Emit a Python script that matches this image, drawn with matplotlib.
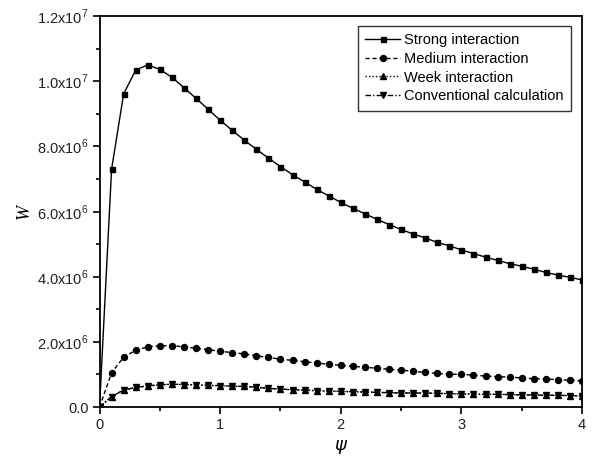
import numpy as np
import matplotlib
matplotlib.use("Agg")
import matplotlib.pyplot as plt
from matplotlib.ticker import FixedLocator, MultipleLocator

psi = [round(0.1 * i, 1) for i in range(41)]

strong = [0, 7.30e6, 9.61e6, 1.034e7, 1.050e7, 1.036e7, 1.012e7, 9.80e6, 9.47e6, 9.14e6,
          8.80e6, 8.49e6, 8.19e6, 7.91e6, 7.64e6, 7.38e6, 7.13e6, 6.91e6, 6.68e6, 6.48e6,
          6.28e6, 6.10e6, 5.93e6, 5.76e6, 5.60e6, 5.45e6, 5.31e6, 5.19e6, 5.05e6, 4.95e6,
          4.82e6, 4.71e6, 4.60e6, 4.50e6, 4.40e6, 4.32e6, 4.23e6, 4.13e6, 4.05e6, 3.98e6,
          3.90e6]

medium = [0, 1.05e6, 1.53e6, 1.74e6, 1.85e6, 1.88e6, 1.88e6, 1.85e6, 1.80e6, 1.76e6,
          1.71e6, 1.67e6, 1.63e6, 1.57e6, 1.52e6, 1.47e6, 1.43e6, 1.39e6, 1.35e6, 1.31e6,
          1.28e6, 1.25e6, 1.22e6, 1.19e6, 1.16e6, 1.13e6, 1.10e6, 1.06e6, 1.03e6, 1.01e6,
          1.00e6, 0.98e6, 0.95e6, 0.93e6, 0.92e6, 0.89e6, 0.87e6, 0.86e6, 0.84e6, 0.82e6,
          0.80e6]

week = [0, 0.32e6, 0.52e6, 0.60e6, 0.65e6, 0.68e6, 0.70e6, 0.69e6, 0.675e6, 0.665e6,
        0.655e6, 0.64e6, 0.63e6, 0.61e6, 0.57e6, 0.55e6, 0.53e6, 0.52e6, 0.50e6, 0.49e6,
        0.48e6, 0.47e6, 0.46e6, 0.45e6, 0.44e6, 0.43e6, 0.43e6, 0.43e6, 0.42e6, 0.41e6,
        0.40e6, 0.40e6, 0.39e6, 0.39e6, 0.38e6, 0.37e6, 0.37e6, 0.36e6, 0.36e6, 0.35e6,
        0.34e6]

conventional = list(week)

labels = ["Strong interaction", "Medium interaction", "Week interaction",
          "Conventional calculation"]
y_ticks = [0, 2e6, 4e6, 6e6, 8e6, 1e7, 1.2e7]
y_tick_labels = ["0.0", r"2.0x10$^{6}$", r"4.0x10$^{6}$", r"6.0x10$^{6}$",
                 r"8.0x10$^{6}$", r"1.0x10$^{7}$", r"1.2x10$^{7}$"]
x_ticks = [0, 1, 2, 3, 4]

plt.rcParams['font.family'] = ['Liberation Sans', 'DejaVu Sans']
plt.rcParams['mathtext.fontset'] = 'custom'
plt.rcParams['mathtext.rm'] = 'Liberation Sans'

fig = plt.figure(figsize=(5.96, 4.65), dpi=100)
ax = fig.add_axes([0.167, 0.1247, 0.8095, 0.8409])

ax.plot(psi, strong, color='black', lw=1.0, ls='-', marker='s', ms=3.6, label=labels[0])
ax.plot(psi, medium, color='black', lw=1.0, ls=(0, (3, 2)), marker='o', ms=4.3, label=labels[1])
ax.plot(psi, week, color='black', lw=1.0, ls=(0, (1, 1.5)), marker='^', ms=4.5, label=labels[2])
ax.plot(psi, conventional, color='black', lw=1.0, ls=(0, (4, 1.5, 1, 1.5)), marker='v', ms=4.5,
        label=labels[3])

ax.set_xlim(0, 4)
ax.set_ylim(0, 1.2e7)
ax.xaxis.set_major_locator(FixedLocator(x_ticks))
ax.xaxis.set_minor_locator(MultipleLocator(0.5))
ax.set_xticklabels([str(t) for t in x_ticks])
ax.yaxis.set_major_locator(FixedLocator(y_ticks))
ax.yaxis.set_minor_locator(MultipleLocator(1e6))
ax.set_yticklabels(y_tick_labels)

ax.tick_params(axis='both', which='major', direction='out', length=5, width=1.2,
               labelsize=10.5, labelcolor='#222222', pad=3)
ax.tick_params(axis='both', which='minor', direction='out', length=3, width=1.2)
for s in ax.spines.values():
    s.set_linewidth(1.3)

ax.set_xlabel(r'$\psi$', fontsize=13, family='DejaVu Serif', labelpad=4)
ax.set_ylabel('W', fontsize=13, family='Liberation Serif', style='italic', labelpad=3)

leg = ax.legend(loc='upper right', bbox_to_anchor=(0.983, 0.982), fontsize=10.5,
                frameon=True, fancybox=False, edgecolor='black', handlelength=2.4,
                handletextpad=0.25, borderpad=0.5, labelspacing=0.32, borderaxespad=0.2)
leg.get_frame().set_linewidth(1.0)

fig.savefig('out.png', dpi=100)
